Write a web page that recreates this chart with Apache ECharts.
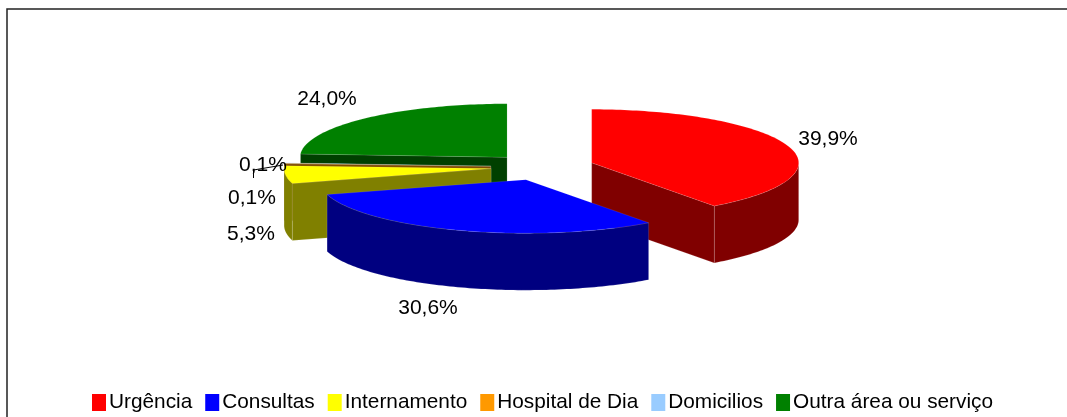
<!DOCTYPE html>
<html>
<head>
<meta charset="utf-8">
<style>
  html, body { margin: 0; padding: 0; background: #fff; }
  #chart { width: 1067px; height: 417px; }
</style>
<script src="https://cdn.jsdelivr.net/npm/echarts@6/dist/echarts.min.js"></script>
</head>
<body>
<div id="chart"></div>
<script>
const categories = ['Urgência', 'Consultas', 'Internamento', 'Hospital de Dia', 'Domicilios', 'Outra área ou serviço'];
const values = [39.9, 30.6, 5.3, 0.1, 0.1, 24.0];
const topColors = ['#ff0000', '#0000ff', '#ffff00', '#ff9900', '#99ccff', '#008000'];
const sideColors = ['#800000', '#000080', '#808000', '#804c00', '#4c6680', '#004000'];
// back to front, so the nearer slices cover the others
const drawOrder = [5, 4, 3, 2, 0, 1];
// centre of each percentage label, same order as categories
const labelCentres = [[828, 139], [428, 308], [251, 234], [252, 198], [263, 165], [327, 99]];

const FONT = '"Liberation Sans", Arial, sans-serif';
const cx = 542.5, cy = 167, rx = 207, ry = 53.5, depth = 57, explode = 0.25;
const total = values.reduce((a, b) => a + b, 0);

function renderSlice(params, api) {
  const i = api.value(2);
  const a0 = api.value(1) / total * Math.PI * 2;
  const a1 = (api.value(1) + api.value(0)) / total * Math.PI * 2;
  const mid = (a0 + a1) / 2;
  const ax = cx + explode * rx * Math.sin(mid);
  const ay = cy - explode * ry * Math.cos(mid);
  const pt = (a, dy) => [ax + rx * Math.sin(a), ay - ry * Math.cos(a) + (dy || 0)];
  const arc = (s, e, dy) => {
    const n = Math.max(2, Math.ceil((e - s) / 0.02));
    const out = [];
    for (let k = 0; k <= n; k++) out.push(pt(s + (e - s) * k / n, dy));
    return out;
  };
  const side = { fill: sideColors[i], stroke: 'rgba(255,255,255,0.25)', lineWidth: 0.5 };
  const children = [];
  // cut walls facing the viewer
  if (Math.cos(a0 - Math.PI / 2) < -0.001) {
    children.push({ type: 'polygon', shape: { points: [[ax, ay], pt(a0), pt(a0, depth), [ax, ay + depth]] }, style: side });
  }
  if (Math.cos(a1 + Math.PI / 2) < -0.001) {
    children.push({ type: 'polygon', shape: { points: [[ax, ay], pt(a1), pt(a1, depth), [ax, ay + depth]] }, style: side });
  }
  // outer wall, only the front half of the ellipse shows
  const f0 = Math.max(a0, Math.PI / 2), f1 = Math.min(a1, Math.PI * 1.5);
  if (f1 > f0) {
    children.push({ type: 'polygon', shape: { points: arc(f0, f1).concat(arc(f0, f1, depth).reverse()) }, style: side });
  }
  children.push({
    type: 'polygon',
    shape: { points: [[ax, ay]].concat(arc(a0, a1)) },
    style: { fill: topColors[i], stroke: 'rgba(255,255,255,0.2)', lineWidth: 0.5 }
  });
  return { type: 'group', children: children };
}

let running = 0;
const starts = values.map(v => { const s = running; running += v; return s; });

const series = drawOrder.map(i => ({
  name: categories[i],
  type: 'custom',
  coordinateSystem: 'none',
  silent: true,
  animation: false,
  itemStyle: { color: topColors[i] },
  renderItem: renderSlice,
  data: [[values[i], starts[i], i]]
}));

const labels = values.map((v, i) => ({
  type: 'text',
  z: 100,
  x: labelCentres[i][0],
  y: labelCentres[i][1],
  style: {
    text: v.toFixed(1).replace('.', ',') + '%',
    font: '21px ' + FONT,
    fill: '#000',
    align: 'center',
    verticalAlign: 'middle'
  }
}));

const chart = echarts.init(document.getElementById('chart'), null, { renderer: 'canvas' });
chart.setOption({
  animation: false,
  legend: {
    data: categories,
    left: 92,
    top: 392,
    icon: 'rect',
    itemWidth: 14,
    itemHeight: 17,
    itemGap: 13,
    selectedMode: false,
    padding: 0,
    textStyle: { fontFamily: FONT, fontSize: 20.8, color: '#000', padding: [0, 0, 0, -2] }
  },
  graphic: [
    {
      type: 'polyline',
      z: 90,
      shape: { points: [[7, 417], [7, 9], [1067, 9]] },
      style: { stroke: '#222', lineWidth: 1.5, fill: null }
    },
    {
      type: 'polyline',
      z: 90,
      shape: { points: [[253.5, 178], [253.5, 170], [283, 165]] },
      style: { stroke: '#000', lineWidth: 1, fill: null }
    }
  ].concat(labels),
  series: series
});
</script>
</body>
</html>
